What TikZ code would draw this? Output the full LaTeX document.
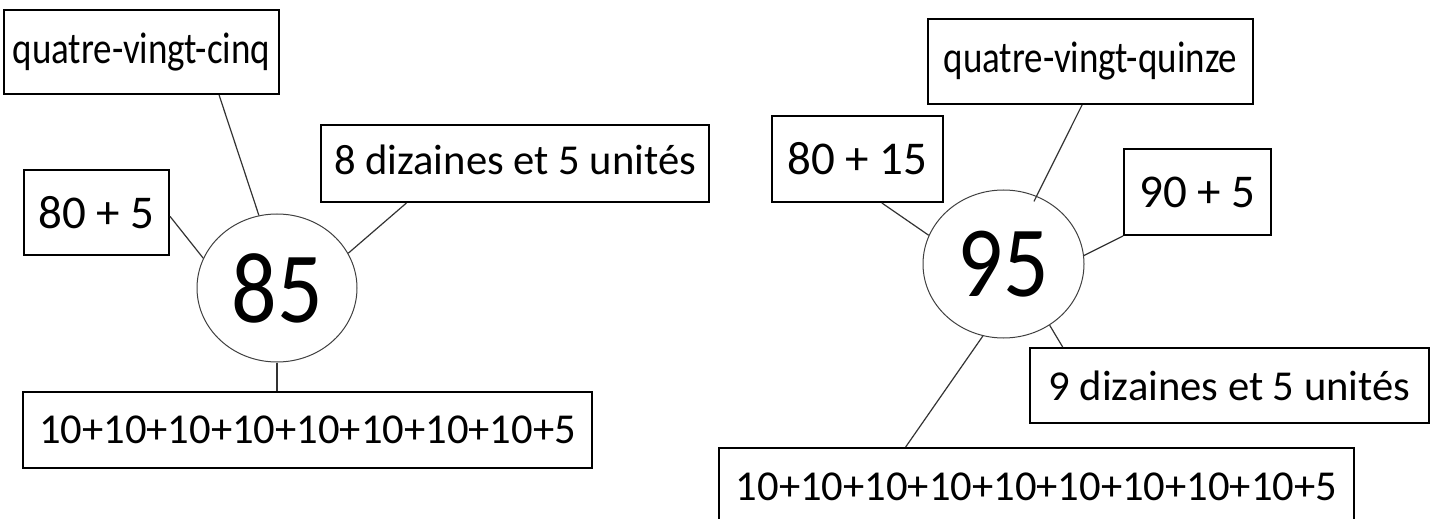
\documentclass[tikz,border=0pt]{standalone}
\usepackage{graphicx}
\usepackage{fontspec}
\setmainfont{Carlito}
\usetikzlibrary{shapes.geometric}

\newcommand{\etire}[2]{\scalebox{1}[#1]{#2}}

\tikzset{
	boite/.style={draw,line width=1pt,inner sep=0pt},
	rond/.style={ellipse,draw=black!75,line width=0.5pt,inner sep=0pt,minimum width=80pt,minimum height=74pt,font=\fontsize{45}{45}\selectfont},
	trait/.style={black!80,line width=0.6pt},
	petit/.style={font=\fontsize{18.5}{20}\selectfont},
	moyen/.style={font=\fontsize{21.3}{24}\selectfont},
	grand/.style={font=\fontsize{23.5}{26}\selectfont}
}

\begin{document}
\begin{tikzpicture}[x=0.5pt,y=-0.5pt]
			\clip (0,0) rectangle (1437,519);
			\fill[white] (0,0) rectangle (1437,519);
			
			% le nombre 85
			\node[rond] (c85) at (277,288) {\etire{1.12}{85}};
			\node[boite,petit,minimum width=137.5pt,minimum height=42pt] (l85) at (141.5,52) {\etire{1.2}{quatre-vingt-cinq}};
			\node[boite,moyen,minimum width=194pt,minimum height=38.5pt] (d85) at (515,163.5) {\raisebox{3.5pt}{8 dizaines et 5 unités}};
			\node[boite,grand,minimum width=72.5pt,minimum height=42.5pt] (s85) at (96.5,212.5) {\raisebox{-1.5pt}{80 + 5}};
			\node[boite,moyen,minimum width=284.5pt,minimum height=38pt] (t85) at (307.5,430) {10+10+10+10+10+10+10+10+5};
			
			\draw[trait] (l85.-29.8) -- (c85.104.6);
			\draw[trait] (s85.-3) -- (c85.158);
			\draw[trait] (d85.200) -- (c85.26);
			\draw[trait] (c85.south) -- (c85.south |- t85.north);
			
			% le nombre 95
			\node[rond,minimum width=80.5pt] (c95) at (1003.5,264) {\etire{1.12}{95}};
			\node[boite,petit,minimum width=162.5pt,minimum height=42.5pt] (l95) at (1090.5,61.5) {\raisebox{-3pt}{\etire{1.2}{quatre-vingt-quinze}}\hspace{5pt}};
			\node[boite,grand,minimum width=85.5pt,minimum height=43pt] (s95) at (857.5,159) {80 + 15};
			\node[boite,grand,minimum width=73.5pt,minimum height=43pt] (n95) at (1197.5,192) {90 + 5};
			\node[boite,moyen,minimum width=199.5pt,minimum height=37.5pt] (d95) at (1229.5,385.5) {9 dizaines et 5 unités};
			\node[boite,moyen,minimum width=317.5pt,minimum height=39pt] (t95) at (1036.5,487) {10+10+10+10+10+10+10+10+10+5};
			
			\draw[trait,shorten >=-3pt] (l95.259.5) -- (c95.64.6);
			\draw[trait] (s95.-61.3) -- (c95.159);
			\draw[trait] (n95.south west) -- (c95.6.4);
			\draw[trait] (d95.167.2) -- (c95.-53.6);
			\draw[trait] (t95.163) -- (c95.-106.9);
\end{tikzpicture}
\end{document}
